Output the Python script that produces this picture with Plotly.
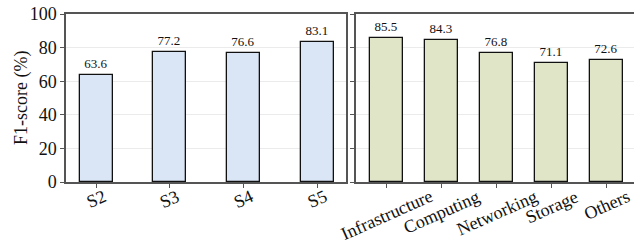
import plotly.graph_objects as go

left_cats = ["S2", "S3", "S4", "S5"]
left_vals = [63.6, 77.2, 76.6, 83.1]
right_cats = ["Infrastructure", "Computing", "Networking", "Storage", "Others"]
right_vals = [85.5, 84.3, 76.8, 71.1, 72.6]
y_ticks = [0, 20, 40, 60, 80, 100]

FONT = "Liberation Serif"
AXC = "#555555"

fig = go.Figure()
fig.add_trace(go.Bar(
    x=left_cats, y=left_vals, width=0.45,
    marker=dict(color="#dae5f6", line=dict(color="#111111", width=1.3)),
    text=[f"{v:.1f}" for v in left_vals], textposition="outside",
    textfont=dict(family=FONT, size=13, color="#111111"),
    cliponaxis=False, xaxis="x", yaxis="y", showlegend=False))
fig.add_trace(go.Bar(
    x=right_cats, y=right_vals, width=0.6,
    marker=dict(color="#e0e5c7", line=dict(color="#111111", width=1.3)),
    text=[f"{v:.1f}" for v in right_vals], textposition="outside",
    textfont=dict(family=FONT, size=13, color="#111111"),
    cliponaxis=False, xaxis="x2", yaxis="y2", showlegend=False))

# rotated, centred category labels
for cats, xr in ((left_cats, "x"), (right_cats, "x2")):
    for c in cats:
        fig.add_annotation(x=c, y=0, xref=xr, yref="y", text=c, showarrow=False,
                           textangle=-24, xanchor="center", yanchor="top", yshift=-3,
                           borderpad=0,
                           font=dict(family=FONT, size=18, color="#111111"))

# y-axis title
fig.add_annotation(x=21/634, y=0.5, xref="paper", yref="paper", text="F1-score (%)",
                   showarrow=False, textangle=-90, xanchor="center", yanchor="middle",
                   font=dict(family=FONT, size=18, color="#111111"))

common_x = dict(type="category", showline=True, linecolor=AXC, linewidth=1.5,
                ticks="outside", ticklen=4, tickcolor=AXC, showticklabels=False,
                showgrid=False, mirror=True, automargin=False)
common_y = dict(range=[0, 100], tickvals=y_ticks, showline=True, linecolor=AXC,
                linewidth=1.5, ticks="outside", ticklen=4, tickcolor=AXC,
                showgrid=True, gridcolor="#ebebeb", gridwidth=1, zeroline=False,
                automargin=False)

fig.update_layout(
    width=634, height=248,
    margin=dict(l=0, r=0, t=14, b=66, autoexpand=False),
    paper_bgcolor="white", plot_bgcolor="white",
    font=dict(family=FONT, color="#111111"),
    bargap=0,
    xaxis=dict(domain=[66/634, 346/634], range=[-0.41, 3.39], **common_x),
    xaxis2=dict(domain=[356/634, 1.0], range=[-0.558, 4.496], **common_x),
    yaxis=dict(anchor="x", mirror=True, ticktext=[str(t) for t in y_ticks],
               tickfont=dict(family=FONT, size=18, color="#111111"),
               **common_y),
    yaxis2=dict(anchor="x2", mirror=False, showticklabels=False, **common_y),
)

fig.write_html("out.html", config={"displayModeBar": False},
               post_script="document.body.style.margin='0';document.body.style.overflow='hidden';")
